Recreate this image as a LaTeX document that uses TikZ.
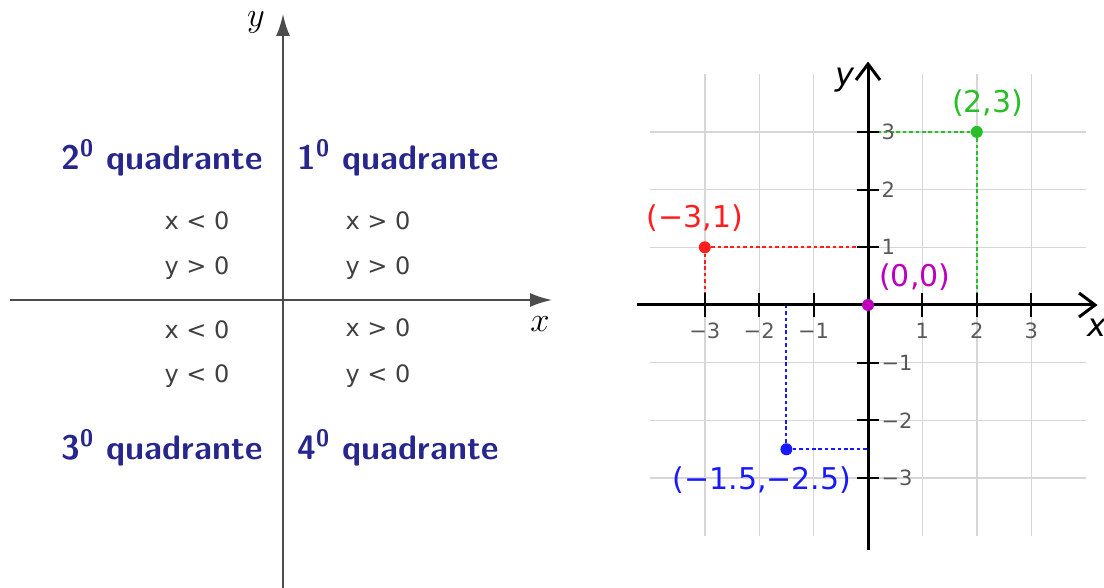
\documentclass[tikz,border=0pt]{standalone}
\usepackage{fontspec}
\newfontfamily\dejavu{DejaVu Sans}
\usetikzlibrary{arrows.meta}
\definecolor{quadblue}{RGB}{38,38,140}
\definecolor{ptred}{RGB}{255,30,30}
\definecolor{ptgreen}{RGB}{40,190,40}
\definecolor{ptblue}{RGB}{25,25,255}
\definecolor{ptmag}{RGB}{190,0,190}

\begin{document}
\begin{tikzpicture}[x=0.5pt, y=-0.5pt,
    quad/.style={text=quadblue, font=\fontsize{17}{20}\selectfont\sffamily\bfseries},
    cond/.style={text=black!75, font=\fontsize{12}{14}\selectfont\dejavu},
    axisL/.style={draw=black!70, line width=1pt, -{Latex[length=11pt,width=7pt]}},
    axisR/.style={draw=black, line width=1.5pt, -{Straight Barb[length=8pt,width=12pt,line width=1.5pt]}},
    gridline/.style={draw=black!16, line width=0.7pt},
    tick/.style={draw=black, line width=1pt},
    ticklbl/.style={text=black!65, font=\fontsize{10.5}{12}\selectfont\dejavu},
    dot/.style={circle, inner sep=0pt, minimum size=6pt},
    guide/.style={line width=1pt, dash pattern=on 1.8pt off 1.4pt},
    ptlabel/.style={font=\fontsize{15}{17}\selectfont\dejavu}
]
    \useasboundingbox (0,0) rectangle (1104,588);

    % Quadrants
    \coordinate (oL) at (283,300);
    \draw[axisL] (283,588) -- (283,14);
    \draw[axisL] (10,300) -- (552,300);
    \node[font=\fontsize{19}{20}\selectfont] (yL) at (256,22) {$y$};
    \node[font=\fontsize{18}{20}\selectfont] (xL) at (540,324) {$x$};

    \node[quad] (q2) at (162,158) {2\textsuperscript{0} quadrante};
    \node[quad] (q1) at (398,158) {1\textsuperscript{0} quadrante};
    \node[quad] (q3) at (162,448) {3\textsuperscript{0} quadrante};
    \node[quad] (q4) at (398,448) {4\textsuperscript{0} quadrante};

    \node[cond] (c2x) at (197,221) {x < 0};
    \node[cond] (c2y) at (197,268) {y > 0};
    \node[cond] (c1x) at (378,221) {x > 0};
    \node[cond] (c1y) at (378,268) {y > 0};
    \node[cond] (c3x) at (197,330) {x < 0};
    \node[cond] (c3y) at (197,376) {y < 0};
    \node[cond] (c4x) at (378,328) {x > 0};
    \node[cond] (c4y) at (378,376) {y < 0};

    % Plane with points
    \begin{scope}[xshift=434pt, yshift=-152.5pt, x=27.2pt, y=28.85pt]
        \foreach \i in {-3,...,3} {
            \draw[gridline] (\i,-4) -- (\i,4);
            \draw[gridline] (-4,\i) -- (4,\i);
        }

        \coordinate (pAx) at (-3,0);
        \coordinate (pAy) at (0,1);
        \coordinate (pBx) at (2,0);
        \coordinate (pBy) at (0,3);
        \coordinate (pCx) at (-1.5,0);
        \coordinate (pCy) at (0,-2.5);
        \node[dot, fill=ptred] (pA) at (-3,1) {};
        \node[dot, fill=ptgreen] (pB) at (2,3) {};
        \node[dot, fill=ptblue] (pC) at (-1.5,-2.5) {};

        \draw[guide, ptred] (pA) -- (pAy);
        \draw[guide, ptred] (pA) -- (pAx);
        \draw[guide, ptgreen] (pB) -- (pBy);
        \draw[guide, ptgreen] (pB) -- (pBx);
        \draw[guide, ptblue] (pC) -- (pCy);
        \draw[guide, ptblue] (pC) -- (pCx);

        \draw[axisR] (-4.25,0) -- (4.22,0);
        \draw[axisR] (0,-4.25) -- (0,4.22);
        \node[font=\fontsize{16}{18}\selectfont\dejavu\itshape] (xR) at (4.2,-0.4) {x};
        \node[font=\fontsize{16}{18}\selectfont\dejavu\itshape] (yR) at (-0.43,3.9) {y};

        \foreach \i/\t in {-3/−3,-2/−2,-1/−1,1/1,2/2,3/3} {
            \draw[tick] (\i,-0.2) -- (\i,0.2);
            \draw[tick] (-0.21,\i) -- (0.21,\i);
            \node[ticklbl] at (\i,-0.45) {\t};
            \node[ticklbl, anchor=west] at (0.12,\i) {\t};
        }

        \node[dot, fill=ptmag] (pO) at (0,0) {};

        \node[ptlabel, text=ptred] (lA) at (-3.18,1.51) {(−3,1)};
        \node[ptlabel, text=ptgreen] (lB) at (2.2,3.5) {(2,3)};
        \node[ptlabel, text=ptmag] (lO) at (0.86,0.49) {(0,0)};
        \node[ptlabel, text=ptblue] (lC) at (-1.95,-3.03) {(−1.5,−2.5)};
    \end{scope}
\end{tikzpicture}
\end{document}
